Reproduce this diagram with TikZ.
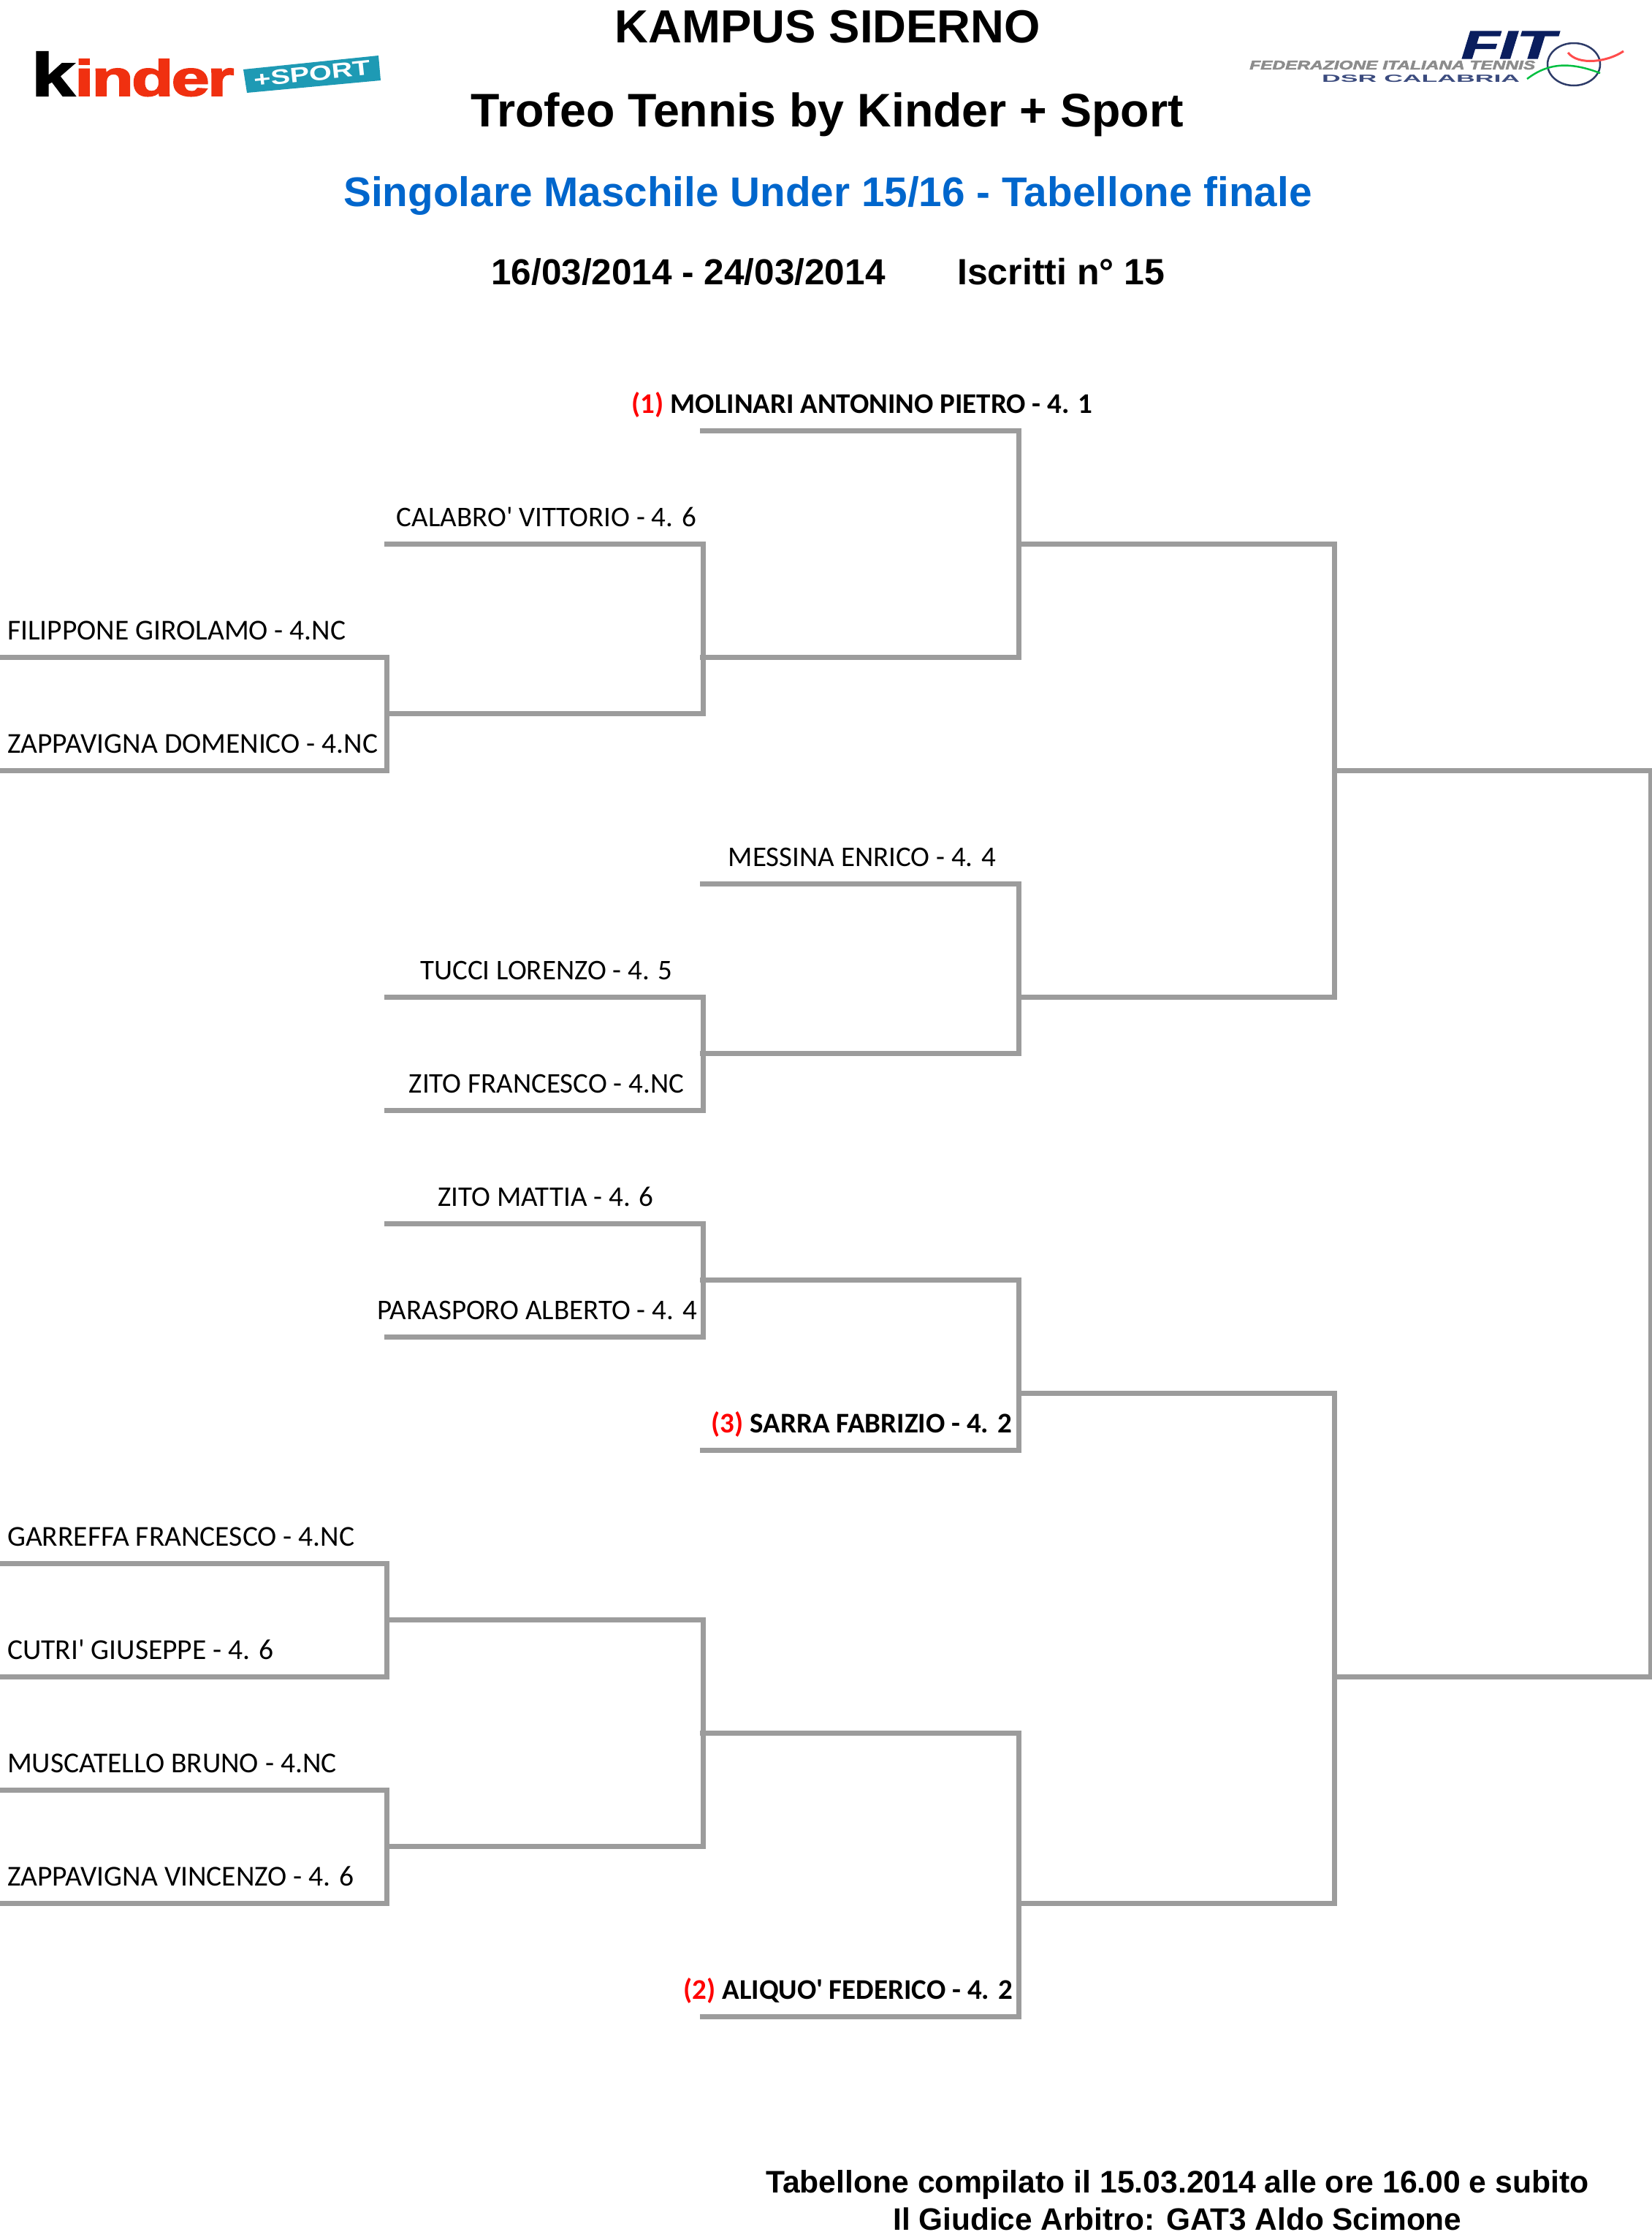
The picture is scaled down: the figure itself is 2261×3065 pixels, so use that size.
\documentclass[tikz,border=0pt]{standalone}
\usepackage{graphicx}
\usepackage{fontspec}
\setmainfont{Liberation Sans}
\newfontfamily\namefont{Carlito}
\newfontfamily\heavyfont[BoldFont={Liberation Sans Bold},BoldFeatures={FakeBold=2.5,LetterSpace=-3}]{Liberation Sans}
\newfontfamily\heavyital[ItalicFont={Liberation Sans Bold Italic},ItalicFeatures={FakeBold=2.5}]{Liberation Sans}
\definecolor{linegray}{HTML}{9C9C9C}
\definecolor{headblue}{HTML}{0066CC}
\definecolor{kinderred}{HTML}{F03010}
\definecolor{sportteal}{HTML}{1E9AB4}
\definecolor{fitnavy}{HTML}{0A1E5E}
\definecolor{fitgray}{HTML}{8C8C8C}
\newcommand{\Bracket}[5]{%
  \coordinate (#1tl) at (#2,#4);
  \coordinate (#1tr) at (#3,#4);
  \coordinate (#1br) at (#3,#5);
  \coordinate (#1bl) at (#2,#5);
  \draw[bracketline] (#1tl) -- (#1tr) -- (#1br) -- (#1bl);
}
\tikzset{
  bracketline/.style={draw=linegray,line width=7pt,miter limit=10},
  player/.style={font=\namefont\fontsize{39}{43}\selectfont,inner sep=0pt,anchor=base},
  leftplayer/.style={font=\namefont\fontsize{39.5}{43}\selectfont,inner sep=0pt,anchor=base west},
  seeded/.style={player,font=\namefont\bfseries\fontsize{39}{43}\selectfont},
  titleA/.style={font=\bfseries\fontsize{64}{70}\selectfont,inner sep=0pt,anchor=base},
  titleB/.style={font=\bfseries\fontsize{56.7}{62}\selectfont,inner sep=0pt,anchor=base,text=headblue},
  titleC/.style={font=\bfseries\fontsize{49.5}{56}\selectfont,inner sep=0pt,anchor=base},
  foot/.style={font=\bfseries\fontsize{42.7}{48}\selectfont,inner sep=0pt,anchor=base},
  logotext/.style={inner sep=0pt,anchor=base west},
}
\begin{document}
\begin{tikzpicture}[x=1pt,y=-1pt]
\useasboundingbox (0,0) rectangle (2261,3065);
% brackets
\Bracket{F}{1826}{2259}{1054}{2294}
\Bracket{SA}{1394}{1826}{744}{1364}
\Bracket{SB}{1394}{1826}{1906.5}{2604}
\Bracket{QA}{958}{1394}{589}{899}
\Bracket{QB}{958}{1394}{1209}{1441.5}
\Bracket{QC}{958}{1394}{1751.5}{1984}
\Bracket{QD}{958}{1394}{2371.5}{2759}
\Bracket{RA}{526}{962}{744}{976.5}
\Bracket{RB}{526}{962}{1364}{1519}
\Bracket{RC}{526}{962}{1674}{1829}
\Bracket{RD}{526}{962}{2216.5}{2526.5}
\Bracket{LA}{-6}{529}{899}{1054}
\Bracket{LB}{-6}{529}{2139}{2294}
\Bracket{LC}{-6}{529}{2449}{2604}
% players
\node[seeded] (molinari) at (1180,565) {\textcolor{red}{(1)} MOLINARI ANTONINO PIETRO - 4. 1};
\node[player] (calabro) at (748,720) {CALABRO' VITTORIO - 4. 6};
\node[leftplayer] (filippone) at (10,875) {FILIPPONE GIROLAMO - 4.NC};
\node[leftplayer] (zappadom) at (10,1030) {ZAPPAVIGNA DOMENICO - 4.NC};
\node[player] (messina) at (1180,1185) {MESSINA ENRICO - 4. 4};
\node[player] (tucci) at (748,1340) {TUCCI LORENZO - 4. 5};
\node[player] (zitof) at (748,1495) {ZITO FRANCESCO - 4.NC};
\node[player] (zitom) at (747,1650) {ZITO MATTIA - 4. 6};
\node[player,anchor=base east] (parasporo) at (954,1805) {PARASPORO ALBERTO - 4. 4};
\node[seeded,anchor=base east] (sarra) at (1385,1960) {\textcolor{red}{(3)} SARRA FABRIZIO - 4. 2};
\node[leftplayer] (garreffa) at (10,2115) {GARREFFA FRANCESCO - 4.NC};
\node[leftplayer] (cutri) at (10,2270) {CUTRI' GIUSEPPE - 4. 6};
\node[leftplayer] (muscatello) at (10,2425) {MUSCATELLO BRUNO - 4.NC};
\node[leftplayer] (zappavin) at (10,2580) {ZAPPAVIGNA VINCENZO - 4. 6};
\node[seeded,anchor=base east] (aliquo) at (1386,2735) {\textcolor{red}{(2)} ALIQUO' FEDERICO - 4. 2};
% heading
\node[titleA,font=\bfseries\fontsize{63.5}{70}\selectfont] (t1) at (1133,58) {KAMPUS SIDERNO};
\node[titleA,font=\bfseries\fontsize{64.5}{70}\selectfont] (t2) at (1132,173) {Trofeo Tennis by Kinder + Sport};
\node[titleB] (t3) at (1133,282) {Singolare Maschile Under 15/16 - Tabellone finale};
\node[titleC,anchor=base west] (t4) at (672,389) {16/03/2014 - 24/03/2014};
\node[titleC,anchor=base west,font=\bfseries\fontsize{50}{56}\selectfont] (t5) at (1310,389) {Iscritti n° 15};
\node[foot,anchor=base west] (f1) at (1048,3000) {Tabellone compilato il 15.03.2014 alle ore 16.00 e subito};
\node[foot,anchor=base west,font=\bfseries\fontsize{42.4}{48}\selectfont] (f2) at (1222,3051) {Il Giudice Arbitro: GAT3 Aldo Scimone};
% Kinder logo
\node[logotext] (kk) at (43,131) {\resizebox{59pt}{60pt}{\heavyfont\bfseries\textcolor{black}{k}}};
\node[logotext] (kinder) at (102,131) {\resizebox{218pt}{50pt}{\heavyfont\bfseries\textcolor{kinderred}{inder}}};
\fill[sportteal] (333,95) -- (518,76) -- (521,110) -- (338,127) -- cycle;
\node[inner sep=0pt,rotate=6,text=white] (sport) at (427,101) {\resizebox{160pt}{20pt}{\bfseries +SPORT}};
% FIT logo
\node[logotext] (fit) at (2000,80) {\resizebox{128pt}{37pt}{\heavyital\itshape\textcolor{fitnavy}{FIT}}};
\node[logotext] (fed) at (1710,95) {\resizebox{391pt}{12pt}{\heavyital\itshape\textcolor{fitgray}{FEDERAZIONE ITALIANA TENNIS}}};
\node[logotext] (dsr) at (1809,112) {\resizebox{271pt}{10pt}{\bfseries\textcolor{fitnavy!80}{DSR CALABRIA}}};
\draw[fitnavy!70!gray,line width=2.5pt] (2154,88) ellipse [x radius=36,y radius=29];
\draw[red!70,line width=3pt] (2146,72) .. controls (2160,90) and (2200,85) .. (2222,70);
\draw[green!50!teal,line width=2.5pt] (2090,108) .. controls (2120,85) and (2150,85) .. (2190,100);
\end{tikzpicture}
\end{document}
